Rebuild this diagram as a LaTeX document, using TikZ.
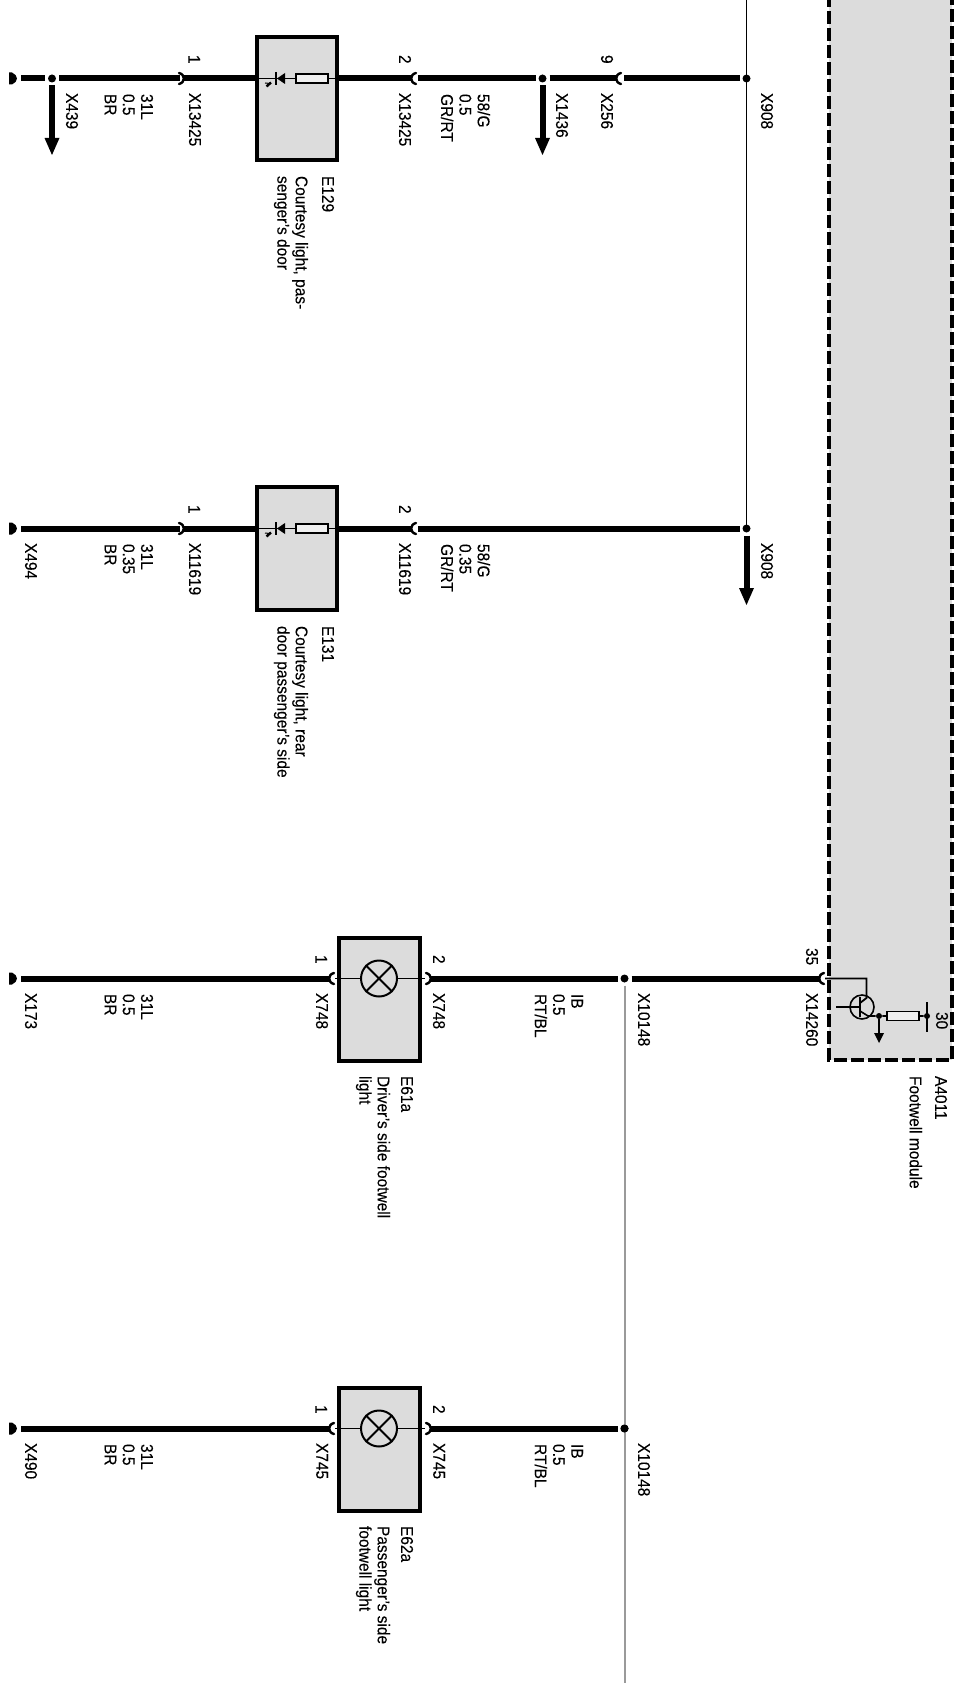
\documentclass[tikz,border=0pt]{standalone}
\usepackage{fontspec}
\setmainfont[FakeStretch=0.91,FakeBold=0.15]{Liberation Sans}
\def\px{0.75pt}
\definecolor{boxgray}{HTML}{DCDCDC}
\definecolor{greyline}{HTML}{9A9A9A}
\tikzset{
  wire/.style={line width=6*\px},
  thinw/.style={line width=1.6*\px},
  greyw/.style={line width=2*\px,draw=greyline},
  lab/.style={rotate=-90,anchor=north west,inner sep=0pt,outer sep=0pt,align=left,font=\fontsize{12.75}{13.7}\selectfont},
  compbox/.style={draw,line width=4*\px,fill=boxgray,minimum width=#1*\px,minimum height=123*\px,inner sep=0pt},
  dotn/.style={circle,fill=black,inner sep=0pt,minimum size=8*\px,outer sep=3*\px},
  resist/.style={draw,line width=1.6*\px,fill=black!6,minimum width=32*\px,minimum height=9*\px,inner sep=0pt},
  connarc/.style={line width=2.4*\px,line cap=round},
  pics/connL/.style={code={\draw[connarc] (5,-5.5) .. controls (-1.5,-4) and (-1.5,4) .. (5,5.5);}},
  pics/connR/.style={code={\draw[connarc] (-5,-5.5) .. controls (1.5,-4) and (1.5,4) .. (-5,5.5);}},
  pics/gndcap/.style={code={\fill (-3,-6) -- (0,-6) .. controls (3,-5) and (5,-2) .. (5,0) .. controls (5,2) and (3,5) .. (0,6) -- (-3,6) -- cycle;}},
}
\usetikzlibrary{calc}
\newcommand\arrowthick[2]{%
  \draw[wire] (#1) -- ($(#2)+(0,-14)$);
  \fill ($(#2)+(-7.5,-17)$) -- ($(#2)+(7.5,-17)$) -- (#2) -- cycle;}
\newcommand\doorlight[1]{%
  \node[compbox=80] (#1box) at (297,98.5) {};
  \coordinate (#1l) at (#1box.west |- 0,78.5);
  \coordinate (#1r) at (#1box.east |- 0,78.5);
  \node[resist] (#1res) at (312,78.5) {};
  \draw[thinw] (#1l) -- (#1res) (#1res) -- (#1r);
  \fill (285,73) -- (285,84) -- (277,78.5) -- cycle;
  \draw[thinw] (276,72) -- (276,85);
  \draw[line width=2.4*\px] (266.5,86.5) -- (271,82.5);
  \draw[line width=1*\px] (265,83) -- (270,83.5);
}
\newcommand\footlight[1]{%
  \node[compbox=81] (#1box) at (379.5,99) {};
  \coordinate (#1l) at (#1box.west |- 0,78.5);
  \coordinate (#1r) at (#1box.east |- 0,78.5);
  \node[circle,draw,line width=2*\px,minimum size=36*\px,inner sep=0pt] (#1lamp) at (379,78.5) {};
  \draw[line width=2*\px] (#1lamp.north west) -- (#1lamp.south east) (#1lamp.north east) -- (#1lamp.south west);
  \draw[thinw] (335,78.5) -- (#1lamp.west) (#1lamp.east) -- (425,78.5);
}
\begin{document}
\begin{tikzpicture}[x=\px,y=-\px]
\useasboundingbox (0,0) rectangle (960,1683);
\fill[white] (0,0) rectangle (960,1683);

% Footwell module
\coordinate (mtl) at (829,-6);
\coordinate (mbl) at (829,1060);
\coordinate (mbr) at (952,1060);
\coordinate (mtr) at (952,-6);
\fill[boxgray] (mtl) rectangle (mbr);
\draw[line width=4*\px,dash pattern=on 13*\px off 4*\px] (mtl) -- (mbl) -- (mbr) -- (mtr);

% Row 1
\begin{scope}
  \doorlight{a}
  \pic at (12,78.5) {gndcap};
  \coordinate (as) at (21,78.5);
  \node[dotn] (ad) at (52,78.5) {};
  \coordinate (ac1) at (180,78.5);
  \coordinate (ac1b) at (184,78.5);
  \coordinate (ac2) at (411,78.5);
  \coordinate (ac2b) at (418,78.5);
  \node[dotn] (ad2) at (542.5,78.5) {};
  \coordinate (ac3) at (616,78.5);
  \coordinate (ac3b) at (624,78.5);
  \node[dotn] (ad3) at (746.5,78.5) {};
  \draw[wire] (as) -- (ad) (ad) -- (ac1) (ac1b) -- (al) (ar) -- (ac2) (ac2b) -- (ad2) (ad2) -- (ac3) (ac3b) -- (ad3);
  \pic at (184,78.5) {connR};
  \pic at (411,78.5) {connL};
  \pic at (616,78.5) {connL};
  \coordinate (at1) at (52,155);
  \coordinate (at2) at (542.5,155);
  \arrowthick{ad.south}{at1}
  \arrowthick{ad2.south}{at2}
  \node[lab] (n1) at (200,55) {1};
  \node[lab] (n2) at (201,93) {X13425};
  \node[lab] (n3) at (411,55) {2};
  \node[lab] (n4) at (411,93) {X13425};
  \node[lab] (n5) at (153,94) {31L\\0.5\\BR};
  \node[lab] (n6) at (78,93) {X439};
  \node[lab] (n7) at (490,94) {58/G\\0.5\\GR/RT};
  \node[lab] (n8) at (334,176) {E129};
  \node[lab] (n9) at (308,176) {Courtesy light, pas-\\senger's door};
  \node[lab] (n10) at (568,93) {X1436};
  \node[lab] (n11) at (613,55) {9};
  \node[lab] (n12) at (613,93) {X256};
  \node[lab] (n13) at (773,93) {X908};
\end{scope}

% Row 2
\begin{scope}[shift={(0,450)}]
  \doorlight{b}
  \pic at (12,78.5) {gndcap};
  \coordinate (bs) at (21,78.5);
  \coordinate (bc1) at (180,78.5);
  \coordinate (bc1b) at (184,78.5);
  \coordinate (bc2) at (411,78.5);
  \coordinate (bc2b) at (418,78.5);
  \node[dotn] (bd3) at (746.5,78.5) {};
  \draw[wire] (bs) -- (bc1) (bc1b) -- (bl) (br) -- (bc2) (bc2b) -- (bd3);
  \pic at (184,78.5) {connR};
  \pic at (411,78.5) {connL};
  \coordinate (bt) at (746.5,155);
  \arrowthick{bd3.south}{bt}
  \node[lab] (m1) at (200,55) {1};
  \node[lab] (m2) at (201,93) {X11619};
  \node[lab] (m3) at (411,55) {2};
  \node[lab] (m4) at (411,93) {X11619};
  \node[lab] (m5) at (153,94) {31L\\0.35\\BR};
  \node[lab] (m6) at (37,93) {X494};
  \node[lab] (m7) at (490,94) {58/G\\0.35\\GR/RT};
  \node[lab] (m8) at (334,176) {E131};
  \node[lab] (m9) at (308,176) {Courtesy light, rear\\door passenger's side};
  \node[lab] (m10) at (773,93) {X908};
\end{scope}

% thin line through the X908 junctions
\coordinate (top908) at (746.5,-2);
\draw[thinw] (top908) -- (ad3.center) -- (bd3.center);

% Row 3
\begin{scope}[shift={(0,900)}]
  \footlight{c}
  \pic at (12,78.5) {gndcap};
  \coordinate (cs) at (21,78.5);
  \coordinate (cc1) at (329,78.5);
  \coordinate (cc2) at (431,78.5);
  \node[dotn] (cd) at (624.5,78.5) {};
  \coordinate (cc3) at (819,78.5);
  \draw[wire] (cs) -- (cc1) (cc2) -- (cd) (cd) -- (cc3);
  \pic at (329,78.5) {connL};
  \pic at (431,78.5) {connR};
  \pic at (819,78.5) {connL};
  \node[lab] (k1) at (327,55) {1};
  \node[lab] (k2) at (328,93) {X748};
  \node[lab] (k3) at (445,55) {2};
  \node[lab] (k4) at (445,93) {X748};
  \node[lab] (k5) at (153,94) {31L\\0.5\\BR};
  \node[lab] (k6) at (37,93) {X173};
  \node[lab] (k7) at (583,94) {IB\\0.5\\RT/BL};
  \node[lab] (k8) at (650,93) {X10148};
  \node[lab] (k9) at (413,176) {E61a};
  \node[lab] (k10) at (390,176) {Driver's side footwell\\light};
  \node[lab] (k11) at (818,48) {35};
  \node[lab] (k12) at (818,93) {X14260};
  \node[lab] (k13) at (947,176) {A4011};
  \node[lab] (k14) at (922,176) {Footwell module};
  \node[lab] (k15) at (948,112) {30};
  % transistor
  \node[circle,draw,line width=1.6*\px,minimum size=24*\px,inner sep=0pt] (tr) at (862,107) {};
  \node[resist] (tres) at (903,116) {};
  \node[circle,fill=black,inner sep=0pt,minimum size=6*\px] (tj1) at (879,116) {};
  \node[circle,fill=black,inner sep=0pt,minimum size=6*\px] (tj2) at (927,116) {};
  \coordinate (tbase) at (836,107);
  \coordinate (tin) at (825,78.5);
  \draw[line width=1.8*\px] (tin) -- (866.5,78.5) -- (866.5,98) -- (860,103);
  \draw[thinw] (tbase) -- (860,107);
  \draw[line width=2*\px] (860,97) -- (860,117);
  \draw[thinw] (860,111) -- (868,116) -- (tj1) -- (tres) (tres) -- (tj2);
  \draw[thinw] (927,102) -- (927,132);
  \coordinate (tg) at (879,143);
  \draw[line width=2*\px] (tj1) -- (879,134);
  \fill (874,133) -- (884,133) -- (tg) -- cycle;
\end{scope}

% Row 4
\begin{scope}[shift={(0,1350)}]
  \footlight{d}
  \pic at (12,78.5) {gndcap};
  \coordinate (ds) at (21,78.5);
  \coordinate (dc1) at (329,78.5);
  \coordinate (dc2) at (431,78.5);
  \node[dotn] (dd) at (624.5,78.5) {};
  \coordinate (dbot) at (624.5,336);
  \draw[wire] (ds) -- (dc1) (dc2) -- (dd);
  \pic at (329,78.5) {connL};
  \pic at (431,78.5) {connR};
  \node[lab] (j1) at (327,55) {1};
  \node[lab] (j2) at (328,93) {X745};
  \node[lab] (j3) at (445,55) {2};
  \node[lab] (j4) at (445,93) {X745};
  \node[lab] (j5) at (153,94) {31L\\0.5\\BR};
  \node[lab] (j6) at (37,93) {X490};
  \node[lab] (j7) at (583,94) {IB\\0.5\\RT/BL};
  \node[lab] (j8) at (650,93) {X10148};
  \node[lab] (j9) at (413,176) {E62a};
  \node[lab] (j10) at (390,176) {Passenger's side\\footwell light};
\end{scope}

% grey line between the X10148 junctions
\draw[greyw] (cd) -- (dd.center) -- (dbot);
\fill (dd.center) circle (4*\px);
\end{tikzpicture}
\end{document}
